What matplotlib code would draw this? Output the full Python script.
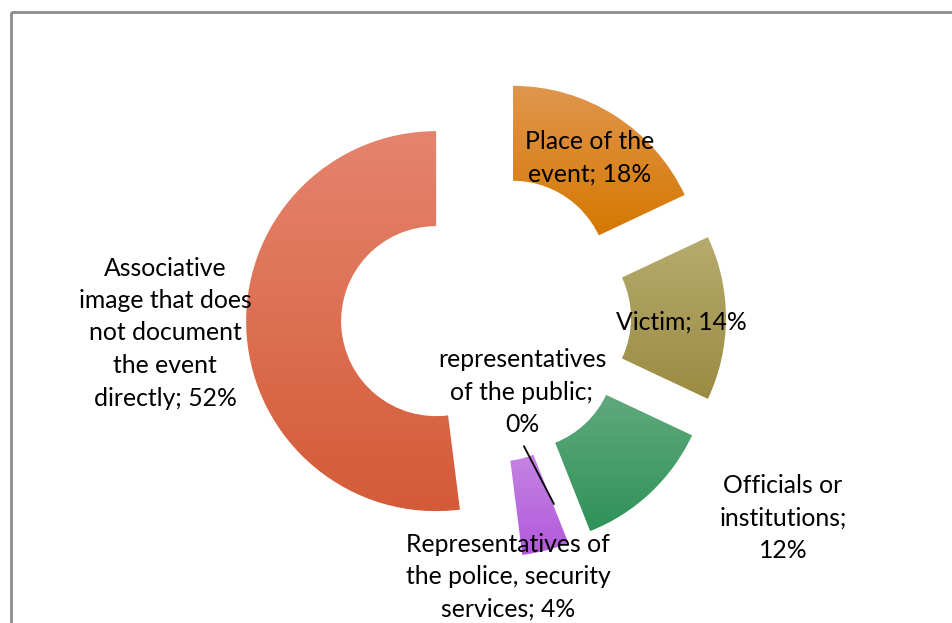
import numpy as np
import matplotlib.pyplot as plt
from matplotlib.colors import to_rgb
from matplotlib.patches import Rectangle

# Share of photo types (percent), clockwise from 12 o'clock
label_templates = [
    "Place of the\nevent; {}%",
    "Victim; {}%",
    "Officials or\ninstitutions;\n{}%",
    "representatives\nof the public;\n{}%",
    "Representatives of\nthe police, security\nservices; {}%",
    "Associative\nimage that does\nnot document\nthe event\ndirectly; {}%",
]
shares = [18, 14, 12, 0, 4, 52]

# Vertical gradient per slice: light top -> darker bottom
top_colors = ["#e0964e", "#b6ab6e", "#61a97d", "#8a8a8a", "#c584e2", "#e5846e"]
bottom_colors = ["#d57800", "#9b8b42", "#2e9257", "#6a6a6a", "#b258dc", "#d45b37"]

# Label anchor points in figure pixels (from top-left)
label_px = [(590, 158), (681, 322), (783, 518), (522, 392), (508, 577), (165, 333)]

W, H = 952, 623
CX, CY, R_PX = 486, 318, 190

fig = plt.figure(figsize=(W / 100, H / 100), dpi=100)
fig.patch.set_facecolor("white")

ax = fig.add_axes([0, 0, 1, 1])
wedges, _ = ax.pie(
    shares,
    startangle=90,
    counterclock=False,
    radius=1.0,
    explode=[0.263] * len(shares),
    wedgeprops=dict(width=0.5, linewidth=0),
)

for w, v, c_top, c_bot in zip(wedges, shares, top_colors, bottom_colors):
    w.set_facecolor("none")
    w.set_edgecolor("none")
    if v == 0:
        continue
    ext = w.get_path().get_extents()
    t = np.linspace(0, 1, 256)[:, None]
    ct, cb = np.array(to_rgb(c_top)), np.array(to_rgb(c_bot))
    grad = cb[None, :] * (1 - t) + ct[None, :] * t
    img = np.repeat(grad[:, None, :], 2, axis=1)
    im = ax.imshow(img, extent=(ext.x0, ext.x1, ext.y0, ext.y1),
                   origin="lower", aspect="auto", interpolation="bilinear",
                   zorder=1)
    im.set_clip_path(w)

ax.set_xlim(-CX / R_PX, (W - CX) / R_PX)
ax.set_ylim(-(H - CY) / R_PX, CY / R_PX)
ax.set_aspect("auto")
ax.axis("off")

# Overlay in pixel coordinates for labels and the frame
ov = fig.add_axes([0, 0, 1, 1])
ov.set_xlim(0, W)
ov.set_ylim(H, 0)
ov.axis("off")
ov.patch.set_alpha(0)

ov.add_patch(Rectangle((11, 12), 2000, 2000, fill=False,
                       edgecolor="#8c8c8c", linewidth=2))

font = dict(family=["Lato", "DejaVu Sans"], fontsize=17.8, color="black",
            ha="center", va="center", linespacing=1.5)

for i, (tmpl, v, (x, y)) in enumerate(zip(label_templates, shares, label_px)):
    if v == 0:
        # leader line from the label to the zero-width slice
        w = wedges[i]
        ang = np.deg2rad(w.theta1)
        cx, cy = w.center
        rmid = 0.79
        pt = (cx + rmid * np.cos(ang) - 0.03, cy + rmid * np.sin(ang))
        ov.annotate(tmpl.format(v), xy=pt, xycoords=ax.transData,
                    xytext=(x, y), textcoords="data",
                    arrowprops=dict(arrowstyle="-", color="black", lw=1.3,
                                    shrinkA=6, shrinkB=0, relpos=(0.48, 0.0)),
                    **font)
    else:
        ov.text(x, y, tmpl.format(v), **font)

fig.savefig("out.png", dpi=100, facecolor="white")
